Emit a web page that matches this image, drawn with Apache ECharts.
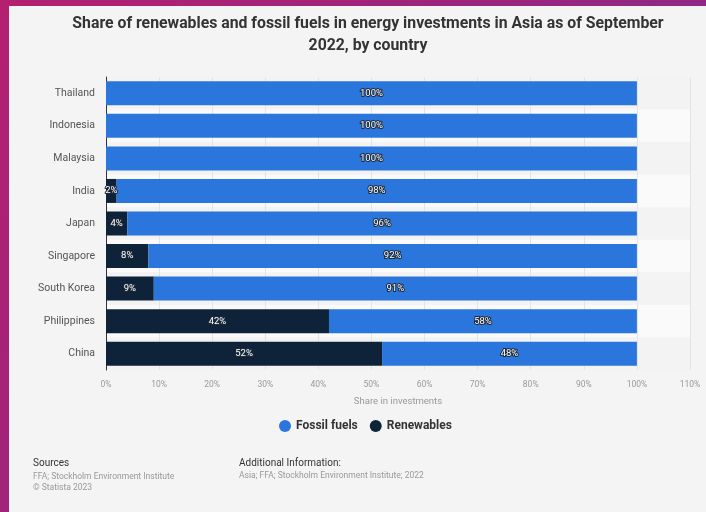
<!DOCTYPE html>
<html>
<head>
<meta charset="utf-8">
<script src="https://cdn.jsdelivr.net/npm/echarts@6/dist/echarts.min.js"></script>
<style>
  html, body { margin: 0; padding: 0; }
  #chart { width: 706px; height: 512px; }
</style>
</head>
<body>
<div id="chart"></div>
<script>
const countries = ['Thailand', 'Indonesia', 'Malaysia', 'India', 'Japan', 'Singapore', 'South Korea', 'Philippines', 'China'];
const renewables = [0, 0, 0, 2, 4, 8, 9, 42, 52];
const fossilFuels = [100, 100, 100, 98, 96, 92, 91, 58, 48];
const xTicks = [0, 10, 20, 30, 40, 50, 60, 70, 80, 90, 100, 110];

const FONT = 'Roboto, "Liberation Sans", Arial, sans-serif';

const barLabel = {
  show: true,
  position: 'inside',
  formatter: p => p.value > 0 ? p.value + '%' : '',
  color: '#ffffff',
  fontFamily: FONT,
  fontSize: 9.5,
  textBorderColor: '#1d2a3a',
  textBorderWidth: 2
};

const chart = echarts.init(document.getElementById('chart'), null, { renderer: 'canvas' });

chart.setOption({
  animation: false,
  backgroundColor: {
    type: 'linear', x: 0, y: 0, x2: 1, y2: 1,
    colorStops: [{ offset: 0, color: '#b3206f' }, { offset: 1, color: '#7e2a92' }]
  },
  graphic: [
    { type: 'rect', z: -10, shape: { x: 9, y: 6, width: 697, height: 506 }, style: { fill: '#f4f4f4' } },
    { type: 'text', left: 33, top: 458, style: { text: 'Sources', fill: '#333', font: '10px ' + FONT } },
    { type: 'text', left: 33, top: 471, style: { text: 'FFA; Stockholm Environment Institute\n© Statista 2023', fill: '#999', font: '8.5px ' + FONT, lineHeight: 11 } },
    { type: 'text', left: 239, top: 458, style: { text: 'Additional Information:', fill: '#333', font: '10px ' + FONT } },
    { type: 'text', left: 239, top: 471, style: { text: 'Asia; FFA; Stockholm Environment Institute; 2022', fill: '#999', font: '8.5px ' + FONT } }
  ],
  title: {
    text: 'Share of renewables and fossil fuels in energy investments in Asia as of September\n2022, by country',
    left: 363,
    textAlign: 'center',
    top: 8,
    textStyle: { fontFamily: FONT, fontSize: 15.8, fontWeight: 'bold', color: '#333', lineHeight: 22 }
  },
  legend: {
    data: ['Fossil fuels', 'Renewables'],
    left: 274,
    top: 415,
    icon: 'circle',
    itemWidth: 12,
    itemHeight: 12,
    itemGap: 12,
    textStyle: { fontFamily: FONT, fontSize: 12, fontWeight: 'bold', color: '#333' }
  },
  grid: { left: 106, right: 16, top: 77, bottom: 142, containLabel: false },
  xAxis: {
    type: 'value',
    min: 0,
    max: 110,
    interval: 10,
    name: 'Share in investments',
    nameLocation: 'middle',
    nameGap: 27,
    nameTextStyle: { fontFamily: FONT, fontSize: 9.5, color: '#999' },
    axisLabel: {
      formatter: v => xTicks.includes(v) ? v + '%' : '',
      fontFamily: FONT, fontSize: 8.5, color: '#999', margin: 10
    },
    axisLine: { show: false },
    axisTick: { show: false },
    splitLine: { show: true, lineStyle: { color: '#e4e4e4', width: 1 } }
  },
  yAxis: {
    type: 'category',
    data: countries,
    inverse: true,
    axisLine: { show: true, lineStyle: { color: '#333', width: 1 } },
    axisTick: { show: false },
    axisLabel: { fontFamily: FONT, fontSize: 10.5, color: '#555', margin: 11 },
    splitArea: { show: true, areaStyle: { color: ['#f3f3f3', '#fafafa'] } }
  },
  series: [
    {
      name: 'Renewables',
      type: 'bar',
      stack: 'share',
      data: renewables,
      barWidth: 24,
      itemStyle: { color: '#0e2339' },
      label: barLabel
    },
    {
      name: 'Fossil fuels',
      type: 'bar',
      stack: 'share',
      data: fossilFuels,
      barWidth: 24,
      itemStyle: { color: '#2a76dd' },
      label: barLabel
    }
  ]
});
</script>
</body>
</html>
